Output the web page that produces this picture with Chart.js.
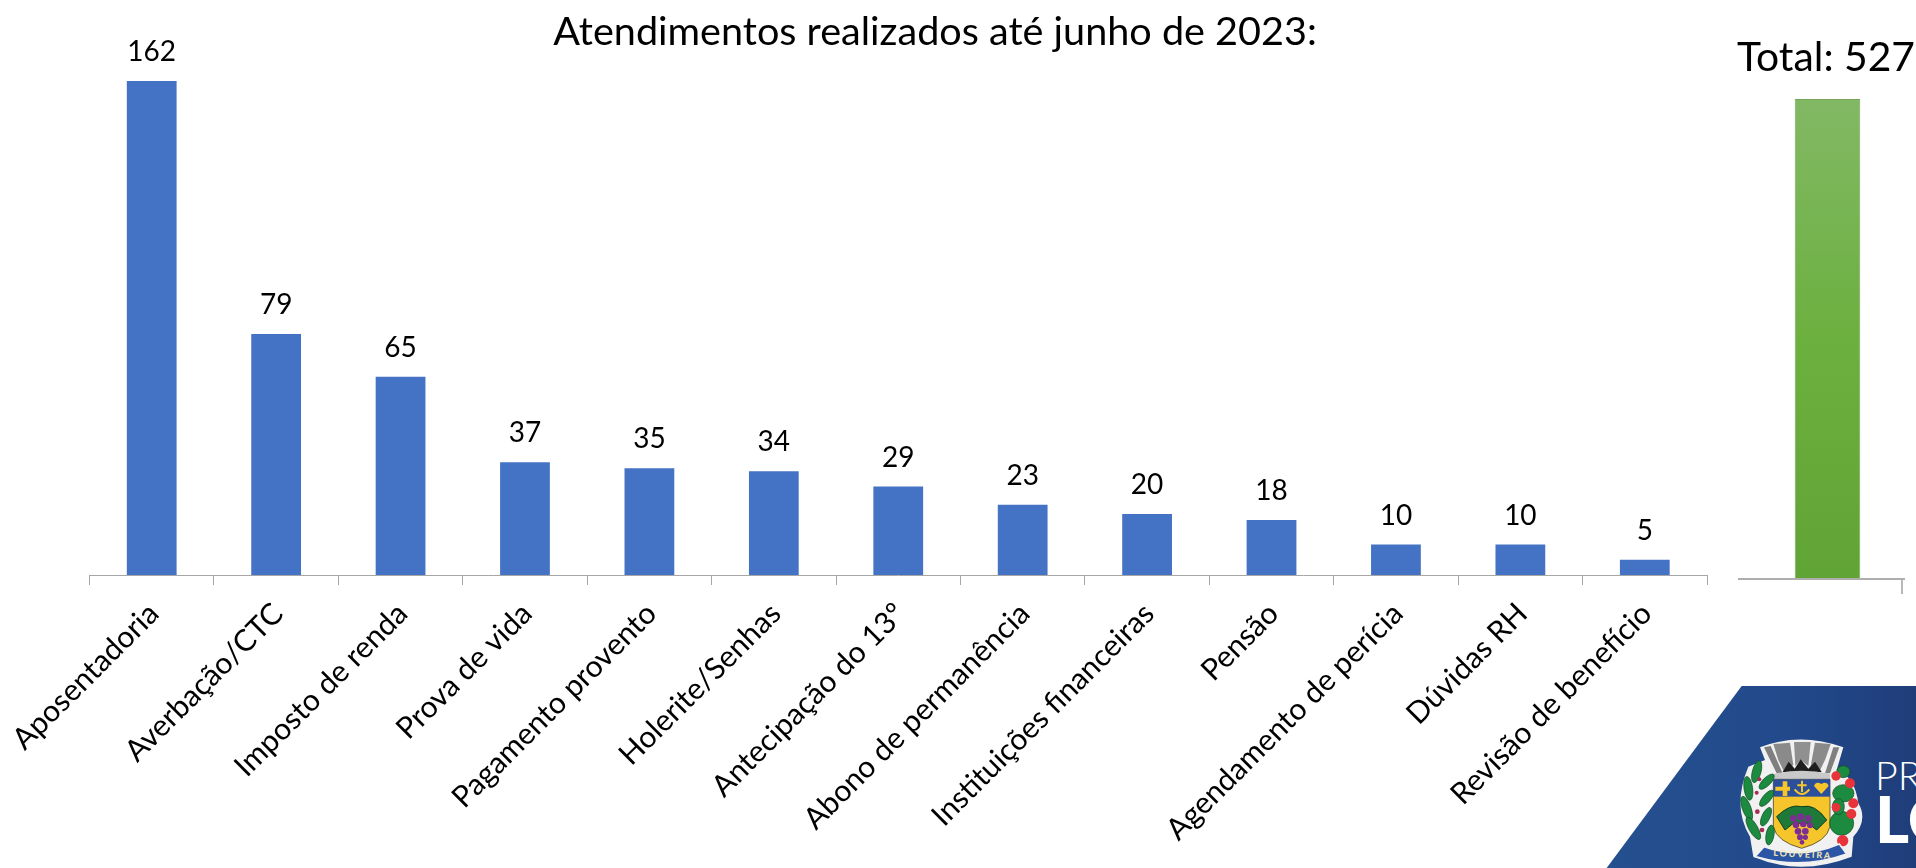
<!DOCTYPE html>
<html lang="pt-BR">
<head>
<meta charset="utf-8">
<title>Atendimentos realizados até junho de 2023</title>
<script src="https://cdn.jsdelivr.net/npm/chart.js@4"></script>
<style>
html,body{margin:0;padding:0;background:#fff;width:1916px;height:868px;overflow:hidden}
canvas,svg{position:absolute;display:block}
#main{left:0;top:0}
#total{left:1736px;top:0}
#logo{left:1560px;top:660px}
</style>
</head>
<body>
<svg id="logo" width="356" height="208" viewBox="0 0 1068 624" xmlns="http://www.w3.org/2000/svg">
  <defs>
    <linearGradient id="bg" x1="0" x2="1" y1="0" y2="0">
      <stop offset="0" stop-color="#25508f"/><stop offset="0.55" stop-color="#224a8c"/><stop offset="1" stop-color="#1f3d79"/>
    </linearGradient>
  </defs>
  <polygon points="545,78 1068,78 1068,624 140,624" fill="url(#bg)"/>
  <path d="M600,262 Q720,215 850,262 L830,330 Q885,350 895,430 Q925,480 880,530 L875,590 Q720,650 580,590 L570,530 Q515,440 565,320 L615,300 Z" fill="#f1f1f1"/>
  <polygon points="612,262 632,258 660,322 668,340 650,340" fill="#7f7f7f"/>
  <polygon points="640,252 690,248 700,315 672,335 655,300" fill="#8a8a8a"/>
  <polygon points="702,246 752,246 745,318 722,300 706,318" fill="#909090"/>
  <polygon points="765,248 812,252 795,300 778,335 752,318" fill="#8a8a8a"/>
  <polygon points="820,262 838,262 810,340 795,340" fill="#7f7f7f"/>
  <polygon points="668,336 686,305 704,326 722,298 745,326 765,305 785,336" fill="#1e1e1e"/>
  <path d="M640,342 Q725,322 810,342 L810,358 L640,358 Z" fill="#c9c9c9"/>
  <path d="M640,358 H810 V500 Q800,545 725,565 Q650,545 640,500 Z" fill="#f6c52b" stroke="#222" stroke-width="2"/>
  <rect x="640" y="358" width="170" height="52" fill="#2c4f9c"/>
  <path d="M668,364 V380 H646 V392 H668 V408 H682 V392 H690 V380 H682 V364 Z" fill="#f6c52b"/>
  <path d="M726,362 V396 M712,376 H740 M704,388 Q726,416 748,388" fill="none" stroke="#f6c52b" stroke-width="6"/>
  <path d="M784,402 L762,378 Q768,362 784,372 Q800,362 806,378 Z" fill="#f6c52b"/>
  <path d="M650,470 Q690,430 725,440 Q765,430 800,480 L770,510 L745,490 H700 L675,510 Z" fill="#1f7a3a" stroke="#0f3d1e" stroke-width="3"/>
  <g fill="#7c2e93">
    <circle cx="700" cy="475" r="10"/><circle cx="722" cy="470" r="10"/><circle cx="745" cy="475" r="10"/>
    <circle cx="708" cy="494" r="10"/><circle cx="730" cy="492" r="10"/><circle cx="750" cy="496" r="9"/>
    <circle cx="714" cy="514" r="10"/><circle cx="736" cy="514" r="10"/>
    <circle cx="720" cy="532" r="9"/><circle cx="736" cy="532" r="8"/><circle cx="726" cy="547" r="7"/>
  </g>
  <g fill="#1c8a3f" stroke="#0f4d24" stroke-width="2">
    <ellipse cx="590" cy="335" rx="13" ry="34" transform="rotate(15 590 335)"/>
    <ellipse cx="620" cy="365" rx="12" ry="30" transform="rotate(45 620 365)"/>
    <ellipse cx="565" cy="385" rx="13" ry="36" transform="rotate(-8 565 385)"/>
    <ellipse cx="620" cy="415" rx="12" ry="30" transform="rotate(40 620 415)"/>
    <ellipse cx="560" cy="445" rx="13" ry="38" transform="rotate(-20 560 445)"/>
    <ellipse cx="618" cy="470" rx="12" ry="30" transform="rotate(25 618 470)"/>
    <ellipse cx="580" cy="505" rx="13" ry="38" transform="rotate(-30 580 505)"/>
    <ellipse cx="630" cy="525" rx="12" ry="30" transform="rotate(10 630 525)"/>
    <ellipse cx="850" cy="335" rx="20" ry="18"/>
    <ellipse cx="850" cy="400" rx="32" ry="26"/>
    <ellipse cx="845" cy="490" rx="36" ry="36"/>
    <ellipse cx="835" cy="440" rx="18" ry="24"/>
  </g>
  <g fill="#e8333a">
    <circle cx="828" cy="348" r="14"/><circle cx="870" cy="370" r="15"/><circle cx="880" cy="430" r="15"/>
    <circle cx="828" cy="442" r="13"/><circle cx="874" cy="462" r="15"/><circle cx="848" cy="542" r="17"/>
  </g>
  <g fill="#a52d55">
    <circle cx="598" cy="358" r="6"/><circle cx="590" cy="398" r="6"/><circle cx="592" cy="455" r="7"/><circle cx="606" cy="510" r="7"/>
  </g>
  <path d="M585,590 L612,560 Q725,600 838,552 L860,582 Q725,630 585,590 Z" fill="#2d55a5" stroke="#f1f1f1" stroke-width="5"/>
  <text x="725" y="592" text-anchor="middle" font-family="Lato" font-size="27" font-weight="700" fill="#f4e9b0" textLength="170" transform="rotate(3 725 590)">LOUVEIRA</text>
  <text x="945" y="389" font-family="Lato" font-weight="300" font-size="118" fill="#ffffff">PR</text>
  <text x="945" y="549" font-family="Lato" font-weight="900" font-size="196" fill="#ffffff">LO</text>
</svg>
<canvas id="main" width="1870" height="868"></canvas>
<canvas id="total" width="180" height="868"></canvas>
<script>
const categories = ["Aposentadoria","Averbação/CTC","Imposto de renda","Prova de vida","Pagamento provento","Holerite/Senhas","Antecipação do 13º","Abono de permanência","Instituições financeiras","Pensão","Agendamento de perícia","Dúvidas RH","Revisão de benefício"];
const atendimentos = [162,79,65,37,35,34,29,23,20,18,10,10,5];
const totalLabels = ["Total"];
const totalValues = [527];
const mainTitle = "Atendimentos realizados até junho de 2023:";
const totalTitle = "Total: 527";

const FONT = "Lato, Carlito, sans-serif";

const valueLabels = {
  id:"valueLabels",
  afterDatasetsDraw(chart){
    const {ctx} = chart;
    const meta = chart.getDatasetMeta(0);
    if(!chart.options.plugins.valueLabels.show) return;
    ctx.save();
    ctx.font = "28px "+FONT;
    ctx.fillStyle = "#000";
    ctx.textAlign = "center";
    ctx.textBaseline = "middle";
    meta.data.forEach((el,i)=>{
      ctx.fillText(String(chart.data.datasets[0].data[i]), el.x, el.y-29);
    });
    ctx.restore();
  }
};

const canvasTitle = {
  id:"canvasTitle",
  afterDraw(chart){
    const o = chart.options.plugins.canvasTitle;
    const {ctx} = chart;
    ctx.save();
    ctx.font = o.size+"px "+FONT;
    ctx.fillStyle = "#000";
    ctx.textAlign = "center";
    ctx.textBaseline = "middle";
    ctx.fillText(o.text, chart.width/2, o.y);
    ctx.restore();
  }
};

const axisExtension = {
  id:"axisExtension",
  afterDraw(chart){
    const o = chart.options.plugins.axisExtension;
    if(!o.show) return;
    const {ctx, chartArea:a} = chart;
    ctx.save();
    ctx.strokeStyle = "#aeaeae";
    ctx.lineWidth = 2;
    ctx.beginPath();
    ctx.moveTo(a.left-o.left, a.bottom);
    ctx.lineTo(a.right+o.right, a.bottom);
    ctx.stroke();
    ctx.restore();
  }
};

Chart.defaults.animation = false;
Chart.defaults.responsive = false;
Chart.defaults.font.family = FONT;
Chart.defaults.color = "#000";

new Chart(document.getElementById("main"),{
  type:"bar",
  plugins:[valueLabels,canvasTitle],
  data:{labels:categories,datasets:[{data:atendimentos,backgroundColor:"#4472c4",borderWidth:0,categoryPercentage:1,barPercentage:0.4}]},
  options:{
    layout:{padding:{left:89.5,right:163,top:81,bottom:0}},
    plugins:{
      legend:{display:false},
      tooltip:{enabled:false},
      valueLabels:{show:true},
      canvasTitle:{text:mainTitle,size:39.6,y:32}
    },
    scales:{
      x:{
        afterFit(s){s.height=293;s.paddingLeft=0;s.paddingRight=0;},
        grid:{offset:true,drawOnChartArea:false,drawTicks:true,tickLength:10,color:"#a6a6a6",lineWidth:1},
        border:{display:true,color:"#a6a6a6",width:1},
        ticks:{maxRotation:45,minRotation:45,autoSkip:false,padding:11,labelOffset:2,font:{size:30,family:FONT},color:"#000"}
      },
      y:{display:false,min:0,max:162}
    }
  }
});

new Chart(document.getElementById("total"),{
  type:"bar",
  plugins:[axisExtension,canvasTitle],
  data:{labels:totalLabels,datasets:[{
    data:totalValues,
    backgroundColor(c){
      const a=c.chart.chartArea;
      if(!a) return "#6aaf3e";
      const g=c.chart.ctx.createLinearGradient(0,a.top,0,a.bottom);
      g.addColorStop(0,"#82b864");g.addColorStop(0.5,"#6cb03f");g.addColorStop(1,"#61a436");
      return g;
    },
    borderColor:"#74a858",borderWidth:1,categoryPercentage:1,barPercentage:0.44
  }]},
  options:{
    layout:{padding:{left:17,right:14,top:99,bottom:0}},
    plugins:{
      legend:{display:false},
      tooltip:{enabled:false},
      valueLabels:{show:false},
      canvasTitle:{text:totalTitle,size:40.8,y:58},
      axisExtension:{show:true,left:15,right:3}
    },
    scales:{
      x:{
        z:1,
        afterFit(s){s.height=289;s.paddingLeft=0;s.paddingRight=0;},
        grid:{offset:true,drawOnChartArea:false,drawTicks:true,tickLength:15,lineWidth:2,color(c){return c.index===0?"rgba(0,0,0,0)":"#b8b8b8";}},
        border:{display:true,color:"#aeaeae",width:2},
        ticks:{display:false}
      },
      y:{display:false,min:0,max:527}
    }
  }
});
</script>
</body>
</html>
